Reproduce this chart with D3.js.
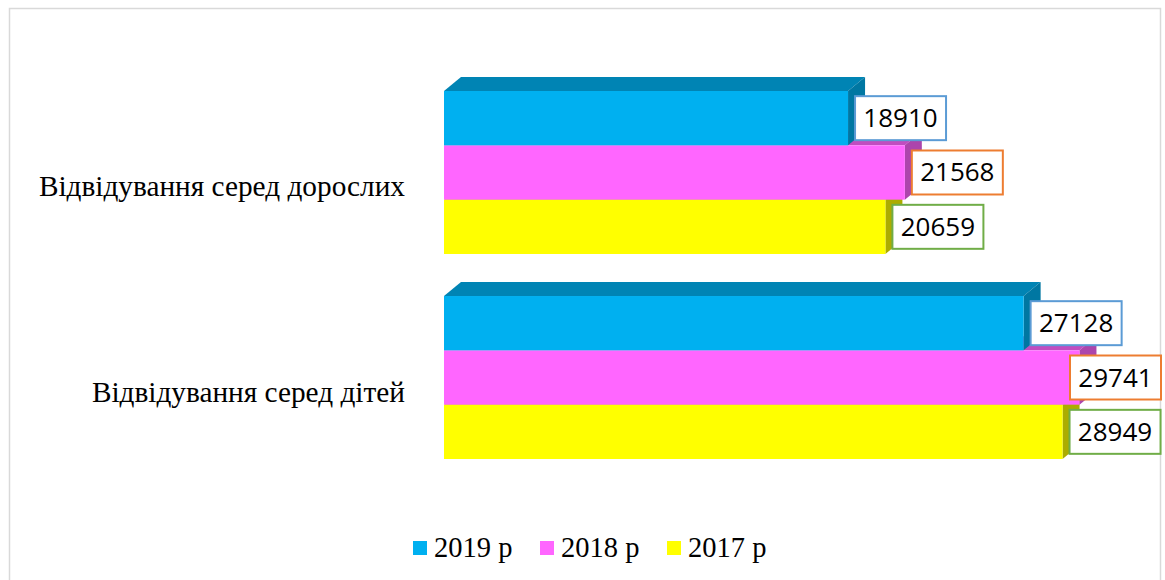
<!DOCTYPE html>
<html>
<head>
<meta charset="utf-8">
<style>
  body { margin: 0; background: #fff; }
</style>
</head>
<body>
<div id="container"></div>
<script src="https://cdn.jsdelivr.net/npm/d3@7"></script>
<script>
// data
const categories = ['Відвідування серед дорослих', 'Відвідування серед дітей'];
const series = ['2019 р', '2018 р', '2017 р'];
const values2019 = [18910, 27128];
const values2018 = [21568, 29741];
const values2017 = [20659, 28949];
const seriesColors = ['#00B0F0', '#FF66FF', '#FFFF00'];
const labelBorders = ['#5B9BD5', '#ED7D31', '#70AD47'];

const width = 1165, height = 580;
const depthX = 17, depthY = 14;

const svg = d3.select('#container').append('svg')
    .attr('width', width)
    .attr('height', height);

// chart border
svg.append('rect')
    .attr('x', 9.5).attr('y', 8.5)
    .attr('width', 1151).attr('height', 600)
    .attr('fill', 'none')
    .attr('stroke', '#d9d9d9')
    .attr('stroke-width', 1.5);

const x = d3.scaleLinear().domain([0, 30000]).range([444, 444 + 641]);
const y = d3.scaleBand().domain(categories).range([91, 459]).paddingInner(0.205);
const yInner = d3.scaleBand().domain(series).range([0, y.bandwidth()]);

const allValues = [values2019, values2018, values2017];
const data = [];
categories.forEach((c, ci) => {
  series.forEach((s, si) => {
    data.push({ cat: c, ser: s, si: si, value: allValues[si][ci] });
  });
});

// draw bottom bars first so upper bars cover their top faces
const order = data.slice().sort((a, b) => b.si - a.si);

const bars = svg.append('g');
order.forEach(d => {
  const x0 = x(0), x1 = x(d.value);
  const y0 = y(d.cat) + yInner(d.ser), h = yInner.bandwidth();
  const base = d3.color(seriesColors[d.si]);
  const g = bars.append('g');
  // top face
  g.append('path')
    .attr('d', `M${x0},${y0}L${x0 + depthX},${y0 - depthY}L${x1 + depthX},${y0 - depthY}L${x1},${y0}Z`)
    .attr('fill', base.darker(0.8));
  // side face
  g.append('path')
    .attr('d', `M${x1},${y0}L${x1 + depthX},${y0 - depthY}L${x1 + depthX},${y0 + h - depthY}L${x1},${y0 + h}Z`)
    .attr('fill', base.darker(1.1));
  // front face
  g.append('rect')
    .attr('x', x0).attr('y', y0)
    .attr('width', x1 - x0).attr('height', h)
    .attr('fill', base);
});

// value labels (kept inside the chart frame like Excel does)
const boxW = 91, boxH = 44;
const labels = svg.append('g');
data.forEach(d => {
  const bx = Math.min(x(d.value) + 7, 1161 - boxW);
  const cy = y(d.cat) + yInner(d.ser) + yInner.bandwidth() / 2;
  labels.append('rect')
    .attr('x', bx).attr('y', cy - boxH / 2)
    .attr('width', boxW).attr('height', boxH)
    .attr('fill', '#fff')
    .attr('stroke', labelBorders[d.si])
    .attr('stroke-width', 2);
  labels.append('text')
    .attr('x', bx + boxW / 2).attr('y', cy + 9)
    .attr('text-anchor', 'middle')
    .attr('font-family', 'Open Sans')
    .attr('font-size', 26)
    .attr('fill', '#000')
    .text(d.value);
});

// category labels
svg.append('g').selectAll('text').data(categories).enter().append('text')
    .attr('x', 405)
    .attr('y', d => y(d) + y.bandwidth() / 2 + 24)
    .attr('text-anchor', 'end')
    .attr('font-family', 'Liberation Serif')
    .attr('font-size', 29.3)
    .attr('fill', '#000')
    .text(d => d);

// legend
const legend = svg.append('g');
series.forEach((s, i) => {
  const lx = 413 + i * 127;
  legend.append('rect')
    .attr('x', lx).attr('y', 541)
    .attr('width', 14).attr('height', 14)
    .attr('fill', seriesColors[i]);
  legend.append('text')
    .attr('x', lx + 21).attr('y', 557)
    .attr('font-family', 'Liberation Serif')
    .attr('font-size', 28.5)
    .attr('fill', '#000')
    .text(s);
});
</script>
</body>
</html>
